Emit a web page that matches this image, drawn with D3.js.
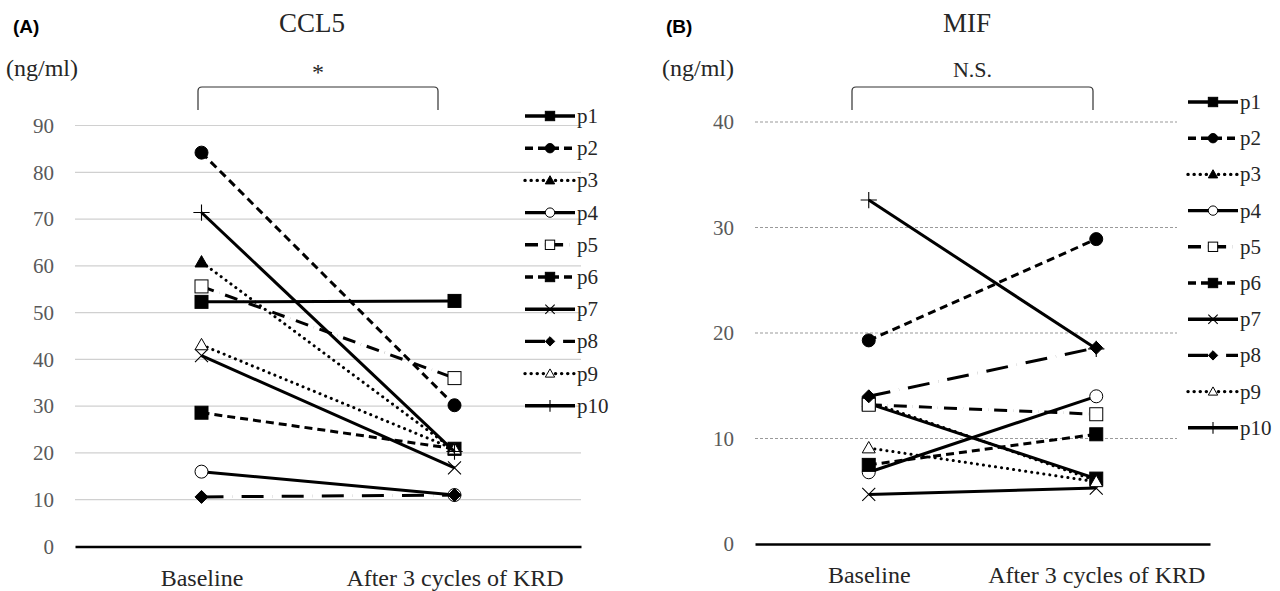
<!DOCTYPE html>
<html>
<head>
<meta charset="utf-8">
<script src="https://cdn.jsdelivr.net/npm/d3@7"></script>
<style>
  body { margin: 0; background: #fff; }
  svg { display: block; }
</style>
</head>
<body>
<div id="wrapper"></div>
<script>
//* Data
const categories = ["Baseline", "After 3 cycles of KRD"];
const patients = ["p1", "p2", "p3", "p4", "p5", "p6", "p7", "p8", "p9", "p10"];

const ccl5Baseline = [52.3, 84.2, 60.8, 16.0, 55.6, 28.6, 40.8, 10.6, 43.1, 71.4];
const ccl5After = [52.5, 30.2, 20.6, 11.0, 36.0, 20.9, 16.8, 11.0, 20.8, 20.3];
const ccl5Ticks = [0, 10, 20, 30, 40, 50, 60, 70, 80, 90];

const mifBaseline = [13.3, 19.3, 13.5, 6.8, 13.2, 7.5, 4.7, 14.0, 9.1, 32.6];
const mifAfter = [6.2, 28.9, 6.0, 14.0, 12.3, 10.4, 5.3, 18.6, 5.9, 18.5];
const mifTicks = [0, 10, 20, 30, 40];

// line + marker look for each patient (Excel style)
const seriesStyle = [
  { dash: null, marker: "square", fill: "#000" },
  { dash: "8,5", marker: "circle", fill: "#000" },
  { dash: "0.1,6", marker: "triangle", fill: "#000" },
  { dash: null, marker: "circle", fill: "#fff" },
  { dash: "13,6,0.1,6", marker: "square", fill: "#fff" },
  { dash: "8,5", marker: "square", fill: "#000" },
  { dash: null, marker: "x", fill: "none" },
  { dash: "22,9,0.1,9", marker: "diamond", fill: "#000" },
  { dash: "0.1,6", marker: "triangle", fill: "#fff" },
  { dash: null, marker: "plus", fill: "none" },
];

const serif = '"Liberation Serif", "Times New Roman", serif';
const sans = '"Liberation Sans", Arial, sans-serif';

const svg = d3
  .select("#wrapper")
  .append("svg")
  .attr("width", 1280)
  .attr("height", 591);

function drawMarker(g, shape, fill, x, y, k = 1) {
  const s = 6.5 * k;
  if (shape === "square") {
    g.append("rect")
      .attr("x", x - s).attr("y", y - s)
      .attr("width", 2 * s).attr("height", 2 * s)
      .attr("fill", fill).attr("stroke", "#000").attr("stroke-width", 1);
  } else if (shape === "circle") {
    g.append("circle")
      .attr("cx", x).attr("cy", y).attr("r", s)
      .attr("fill", fill).attr("stroke", "#000").attr("stroke-width", 1);
  } else if (shape === "triangle") {
    g.append("path")
      .attr("d", `M${x},${y - s}L${x + s},${y + s * 0.75}L${x - s},${y + s * 0.75}Z`)
      .attr("fill", fill).attr("stroke", "#000").attr("stroke-width", 1);
  } else if (shape === "diamond") {
    g.append("path")
      .attr("d", `M${x},${y - s}L${x + s},${y}L${x},${y + s}L${x - s},${y}Z`)
      .attr("fill", fill).attr("stroke", "#000").attr("stroke-width", 1);
  } else if (shape === "x") {
    g.append("path")
      .attr("d", `M${x - s},${y - s}L${x + s},${y + s}M${x - s},${y + s}L${x + s},${y - s}`)
      .attr("stroke", "#000").attr("stroke-width", 1.1).attr("fill", "none");
  } else if (shape === "plus") {
    const p = s * 1.25;
    g.append("path")
      .attr("d", `M${x - p},${y}L${x + p},${y}M${x},${y - p}L${x},${y + p}`)
      .attr("stroke", "#000").attr("stroke-width", 1.1).attr("fill", "none");
  }
}

function drawPanel(cfg) {
  const xScale = d3
    .scalePoint()
    .domain(categories)
    .range([cfg.left, cfg.right])
    .padding(0.5);

  const yScale = d3
    .scaleLinear()
    .domain([0, d3.max(cfg.ticks)])
    .range([cfg.bottom, cfg.top]);

  const g = svg.append("g");

  // gridlines
  g.selectAll(".grid")
    .data(cfg.ticks.filter((t) => t > 0))
    .join("line")
    .attr("x1", cfg.left)
    .attr("x2", cfg.gridRight)
    .attr("y1", (d) => yScale(d))
    .attr("y2", (d) => yScale(d))
    .attr("stroke", cfg.gridColor)
    .attr("stroke-width", 1.2)
    .attr("stroke-dasharray", cfg.gridDash);

  // y tick labels
  const yAxis = g
    .append("g")
    .attr("transform", `translate(${cfg.left - 21},0)`)
    .call(d3.axisLeft(yScale).tickValues(cfg.ticks).tickSize(0).tickPadding(0));
  yAxis.select(".domain").remove();
  yAxis.selectAll("text")
    .style("font-family", serif)
    .style("font-size", "21px")
    .attr("fill", "#595959");

  // x axis
  const xAxis = g
    .append("g")
    .attr("transform", `translate(0,${cfg.bottom})`)
    .call(d3.axisBottom(xScale).tickSize(0).tickPadding(0));
  xAxis.select(".domain").attr("stroke", "#000").attr("stroke-width", 2.6);
  xAxis.selectAll("text")
    .attr("y", 39)
    .attr("dy", null)
    .style("font-family", serif)
    .style("font-size", "24px")
    .attr("fill", "#262626");

  // series
  const line = d3.line().x((d) => d.x).y((d) => d.y);
  patients.forEach((p, i) => {
    const st = seriesStyle[i];
    const pts = [
      { x: xScale(categories[0]), y: yScale(cfg.baseline[i]) },
      { x: xScale(categories[1]), y: yScale(cfg.after[i]) },
    ];
    const sg = g.append("g");
    sg.append("path")
      .attr("d", line(pts))
      .attr("fill", "none")
      .attr("stroke", "#000")
      .attr("stroke-width", 3)
      .attr("stroke-linecap", st.dash && st.dash.startsWith("0.1") ? "round" : "butt")
      .attr("stroke-dasharray", st.dash);
    pts.forEach((pt) => drawMarker(sg, st.marker, st.fill, pt.x, pt.y));
  });

  // legend
  const lg = g.append("g");
  if (cfg.legendBg) {
    lg.append("rect")
      .attr("x", cfg.legendX - 11).attr("y", cfg.legendY - 20)
      .attr("width", 1280 - cfg.legendX + 11)
      .attr("height", cfg.legendStep * 10 + 10)
      .attr("fill", "#fff");
  }
  patients.forEach((p, i) => {
    const st = seriesStyle[i];
    const y = cfg.legendY + i * cfg.legendStep;
    lg.append("line")
      .attr("x1", cfg.legendX).attr("x2", cfg.legendX + 50)
      .attr("y1", y).attr("y2", y)
      .attr("stroke", "#000")
      .attr("stroke-width", 3.4)
      .attr("stroke-linecap", st.dash && st.dash.startsWith("0.1") ? "round" : "butt")
      .attr("stroke-dasharray", st.dash ? st.dash.replace("22,9", "20,9") : null);
    drawMarker(lg, st.marker, st.fill, cfg.legendX + 25, y, 0.72);
    lg.append("text")
      .attr("x", cfg.legendX + 52)
      .attr("y", y + 7)
      .style("font-family", serif)
      .style("font-size", "21px")
      .attr("fill", "#262626")
      .text(p);
  });

  // panel letter, title, unit
  g.append("text")
    .attr("x", cfg.letterX).attr("y", 33)
    .style("font-family", sans)
    .style("font-weight", "bold")
    .style("font-size", "19px")
    .attr("fill", "#000")
    .text(cfg.letter);
  g.append("text")
    .attr("x", cfg.titleX).attr("y", 32)
    .attr("text-anchor", "middle")
    .style("font-family", serif)
    .style("font-size", "27px")
    .attr("fill", "#262626")
    .text(cfg.title);
  g.append("text")
    .attr("x", cfg.unitX).attr("y", 76)
    .style("font-family", serif)
    .style("font-size", "24px")
    .attr("fill", "#262626")
    .text("(ng/ml)");

  // significance bracket
  const b0 = cfg.bracket[0];
  const b1 = cfg.bracket[1];
  g.append("path")
    .attr("d", `M${b0},110V91Q${b0},87 ${b0 + 4},87H${b1 - 4}Q${b1},87 ${b1},91V110`)
    .attr("fill", "none")
    .attr("stroke", "#333")
    .attr("stroke-width", 1.2);
  g.append("text")
    .attr("x", (b0 + b1) / 2)
    .attr("y", cfg.sigY)
    .attr("text-anchor", "middle")
    .style("font-family", serif)
    .style("font-size", `${cfg.sigSize}px`)
    .attr("fill", "#262626")
    .text(cfg.sig);
}

drawPanel({
  letter: "(A)", letterX: 13,
  title: "CCL5", titleX: 312,
  unitX: 6,
  sig: "*", sigY: 80, sigSize: 24,
  bracket: [198, 438],
  left: 75, right: 581, gridRight: 581,
  top: 125.5, bottom: 546.5,
  ticks: ccl5Ticks,
  baseline: ccl5Baseline, after: ccl5After,
  gridColor: "#d0d0d0", gridDash: null,
  legendX: 525, legendY: 116, legendStep: 32.2, legendBg: false,
});

drawPanel({
  letter: "(B)", letterX: 666,
  title: "MIF", titleX: 967,
  unitX: 662,
  sig: "N.S.", sigY: 77, sigSize: 22,
  bracket: [852, 1093],
  left: 755, right: 1210, gridRight: 1210,
  top: 122, bottom: 544,
  ticks: mifTicks,
  baseline: mifBaseline, after: mifAfter,
  gridColor: "#9a9a9a", gridDash: "3,2",
  legendX: 1188, legendY: 102, legendStep: 36.2, legendBg: true,
});
</script>
</body>
</html>
